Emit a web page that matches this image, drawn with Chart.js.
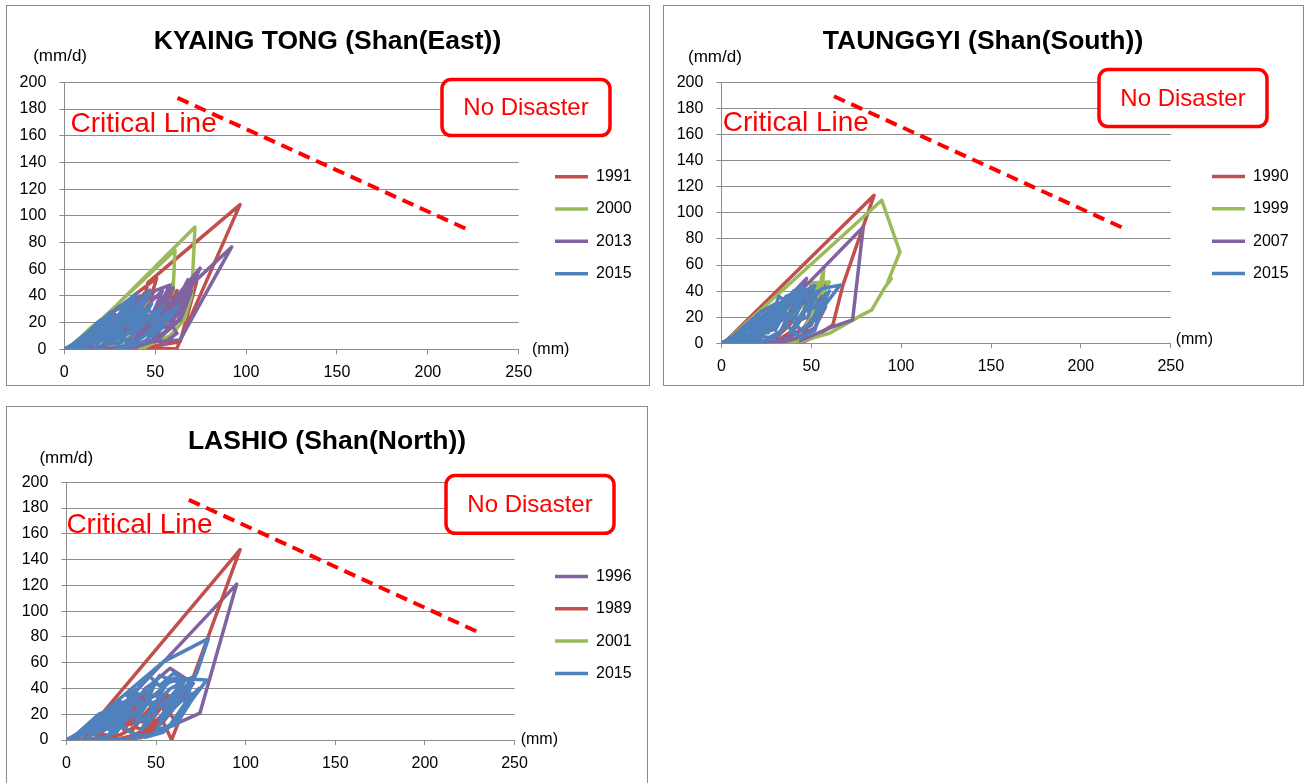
<!DOCTYPE html>
<html>
<head>
<meta charset="utf-8">
<title>Snake lines - Shan State</title>
<script src="https://cdn.jsdelivr.net/npm/chart.js@4.4.1/dist/chart.umd.min.js"></script>
<style>
  html, body { margin: 0; padding: 0; background: #fff; width: 1305px; height: 783px; overflow: hidden; }
  .frame { position: absolute; border: 1px solid #8a8a8a; box-sizing: border-box; }
  canvas { position: absolute; }
</style>
</head>
<body>
<div class="frame" style="left:6px;top:5px;width:644px;height:381px"></div>
<div class="frame" style="left:663px;top:5px;width:641px;height:381px"></div>
<div class="frame" style="left:6px;top:406px;width:642px;height:400px"></div>
<canvas id="c1" width="641" height="377" style="left:7px;top:7px"></canvas>
<canvas id="c2" width="638" height="377" style="left:664px;top:7px"></canvas>
<canvas id="c3" width="640" height="376" style="left:7px;top:407px"></canvas>
<script>
// ---- axis ticks ----
const xTickValues = [0, 50, 100, 150, 200, 250];
const yTickValues = [0, 20, 40, 60, 80, 100, 120, 140, 160, 180, 200];

// ---- KYAING TONG (Shan East): [working rainfall mm, rainfall mm/d] ----
const ktYears = ['1991', '2000', '2013', '2015'];
const kt1991 = [[0,0],[4,3],[9,8],[6,2],[14,12],[10,3],[20,17],[26,20],[18,6],[12,1],[24,18],[32,26],[26,10],[38,40],[50.8,53.3],[44,22],[36,9],[46,30],[40,12],[46,50],[96.7,108.4],[61.8,0.3],[50,1],[38,1],[44,18],[56,36],[62,44],[52,16],[58,30],[72.8,50.5],[63.7,5.7],[52,3],[40,0],[30,4],[36,20],[28,8],[20,2],[12,0],[6,0],[4,0],[18,20],[28,26],[22,12],[34,30],[44,36],[38,20],[48,26],[56,40],[60,50],[54,26],[46,14],[38,6],[30,2],[20,0],[10,0],[0,0]];
const kt2000 = [[0,0],[3,2],[8,7],[5,1],[12,10],[9,3],[16,14],[11,5],[6,4],[60.9,74.2],[59.8,42.8],[52,30],[46,14],[40,6],[34,2],[28,0],[22,4],[30,22],[26,9],[18,3],[14,13],[71.9,91.6],[70.1,40.6],[66,22],[58,10],[48,4],[42,0],[36,8],[44,26],[38,14],[30,5],[22,1],[14,0],[8,0],[2,0],[16,18],[22,16],[18,6],[28,20],[34,24],[28,12],[40,30],[46,36],[40,18],[50,26],[44,10],[36,4],[26,2],[14,0],[0,0]];
const kt2013 = [[0,0],[5,4],[10,8],[7,2],[15,12],[20,16],[14,4],[24,20],[30,26],[22,8],[34,30],[40,38],[32,12],[26,4],[38,28],[44,42],[36,16],[48,36],[54,44],[46,18],[40,6],[52,30],[60,46],[52,20],[62,40],[74.7,60.8],[64,30],[56,14],[48,6],[58,24],[63.7,40.6],[92.1,76.7],[63.7,7],[48.8,5.7],[40,2],[34,0],[42,14],[50,24],[44,10],[36,3],[26,1],[18,0],[10,0],[4,0],[30,32],[42,40],[36,22],[50,44],[58,48],[50,26],[62,36],[68,52],[60,30],[54,16],[64,22],[70,44],[62,20],[52,8],[40,4],[28,0],[14,0],[4,0],[26,28],[36,34],[32,18],[46,40],[54,38],[48,22],[58,34],[66,44],[58,18],[68,40],[72,56],[64,34],[56,26],[62,12],[54,4],[44,16],[38,26],[30,12],[20,2],[0,0]];
const kt2015 = [[0,0],[4,3],[8,6],[5,1],[12,9],[16,13],[10,3],[18,15],[24,20],[16,6],[2,1],[40,42],[32,30],[24,12],[18,4],[30,18],[36,28],[28,10],[40,32],[47.2,44.3],[38,20],[32,8],[42,24],[48,34],[40,14],[50,28],[54,20],[46,10],[56,26],[62.6,31.8],[52,14],[44,6],[36,2],[28,0],[34,12],[26,5],[20,1],[12,0],[6,0],[2,0],[26,28],[20,12],[14,4],[30,26],[38,36],[30,16],[22,6],[34,22],[44,30],[36,12],[46,22],[52,30],[42,18],[34,4],[42,8],[50,18],[44,26],[38,30],[30,22],[22,14],[16,8],[10,2],[4,1],[20,22],[28,20],[22,8],[32,14],[26,16],[18,10],[8,2],[2,0],[14,14],[20,10],[26,24],[34,26],[28,14],[36,20],[42,34],[36,26],[44,40],[40,22],[48,24],[54,32],[48,16],[56,20],[60,28],[52,22],[46,30],[40,18],[32,24],[26,18],[34,34],[30,12],[24,8],[38,14],[44,20],[36,8],[28,4],[22,10],[16,4],[24,26],[18,14],[12,6],[6,2],[0,0]];
const ktCritical = [[62.3,188.3],[221.9,89.7]];

// ---- TAUNGGYI (Shan South) ----
const tgYears = ['1990', '1999', '2007', '2015'];
const tg1990 = [[0,0],[4,3],[8,7],[5,1],[12,10],[8,2],[16,14],[22,18],[15,5],[26,22],[20,8],[30,24],[36,30],[28,10],[40,34],[46,40],[38,14],[30,4],[42,24],[50,44],[58,45],[50,20],[44,8],[36,2],[2,1],[84.9,113.4],[67.6,44.6],[62,14],[52,5],[44,0],[38,6],[46,22],[40,10],[32,3],[22,0],[14,0],[6,0],[2,0],[24,26],[32,30],[26,12],[38,34],[44,42],[38,20],[52,38],[58,44],[52,26],[46,12],[36,4],[24,0],[0,0]];
const tg1999 = [[0,0],[4,3],[2,0],[8,6],[12,10],[7,2],[16,14],[22,20],[14,4],[26,24],[20,8],[30,26],[36,34],[28,12],[40,38],[46,46],[60,47],[52,26],[57,58],[55,22],[48,12],[40,4],[32,0],[24,6],[3,2],[89.2,109.6],[99.3,70],[92.6,47],[94.5,49.5],[91,43],[83.6,25.5],[78,21.6],[60.4,7.9],[43.7,1.2],[34,0],[26,2],[18,0],[10,1],[4,0],[2,0],[20,22],[28,26],[24,12],[34,30],[42,40],[36,18],[48,32],[54,46],[50,20],[44,6],[36,0],[22,0],[0,0]];
const tg2007 = [[0,0],[5,4],[3,1],[10,8],[14,12],[9,3],[18,16],[24,22],[16,6],[28,26],[34,32],[26,10],[38,36],[47.4,49.7],[40,24],[34,10],[42,30],[50,40],[44,18],[38,6],[30,1],[43.6,39.4],[78.9,89.1],[73,18],[62.1,12.7],[51,6.3],[44,2],[50,18],[58,28],[52,12],[42,4],[32,0],[24,2],[16,0],[8,0],[2,0],[22,24],[30,30],[26,14],[36,34],[44,44],[38,22],[48,34],[52,28],[56,36],[50,14],[42,8],[34,2],[20,0],[0,0]];
const tg2015 = [[0,0],[4,3],[7,6],[4,1],[10,8],[14,12],[9,2],[16,14],[20,18],[14,5],[24,22],[28,25],[20,8],[30,28],[34,30],[26,12],[18,3],[28,18],[36,32],[30,14],[40,34],[44,38],[36,16],[46,40],[52,44],[45,22],[38,8],[48,30],[56,42],[66,44.6],[58,30],[50,16],[58,38],[52,10],[44,4],[36,14],[30,5],[22,1],[14,0],[6,0],[2,0],[22,24],[30,30],[24,14],[36,36],[46,42],[40,28],[48,36],[54,40],[46,24],[56,30],[60,40],[52,18],[44,10],[38,22],[30,14],[22,6],[32,20],[40,24],[34,10],[26,4],[16,8],[10,4],[4,1],[18,18],[26,16],[20,6],[12,2],[2,0],[12,12],[18,8],[24,20],[30,18],[26,8],[34,24],[40,40],[34,20],[42,26],[46,36],[40,16],[48,20],[52,36],[56,24],[50,30],[44,44],[38,30],[32,36],[28,20],[36,26],[30,10],[24,14],[20,22],[16,10],[22,4],[14,2],[8,6],[0,0]];
const tgCritical = [[62.6,189.3],[223.4,88.4]];

// ---- LASHIO (Shan North) ----
const lsYears = ['1996', '1989', '2001', '2015'];
const ls1996 = [[0,0],[4,3],[8,6],[5,1],[12,10],[16,13],[10,3],[20,16],[26,20],[18,6],[30,24],[24,10],[34,28],[40,34],[32,12],[26,4],[36,22],[44,38],[38,16],[48,44],[57.8,55.7],[70.8,43.9],[62,28],[54,14],[46,6],[38,1],[30,0],[22,2],[16,4],[95,121],[74.5,20.9],[59.5,11.6],[50,6],[44,10],[56,36],[55,20],[50,14],[42,4],[34,0],[24,1],[14,0],[6,0],[0,0]];
const ls1989 = [[0,0],[3,2],[7,5],[4,1],[10,8],[6,2],[12,10],[18,14],[12,4],[22,16],[28,20],[20,6],[30,24],[26,10],[34,30],[40,26],[32,8],[38,18],[44,28],[36,12],[46,32],[52,36],[58,34],[50,20],[44,8],[54,14],[58.7,0],[62,12],[56,24],[48,10],[40,2],[30,0],[22,4],[10,8],[16.9,15.5],[96.9,147.7],[70.6,48],[62,34],[54,20],[46,10],[38,4],[30,1],[20,0],[10,0],[2,0],[16,16],[24,22],[20,10],[28,28],[34,24],[30,12],[38,32],[42,20],[36,6],[46,24],[50,12],[42,2],[30,0],[16,0],[4,0],[20,18],[26,14],[32,26],[40,30],[34,18],[44,34],[48,28],[42,14],[52,30],[56,22],[48,6],[38,10],[30,4],[22,2],[0,0]];
const ls2001 = [];
const ls2015 = [[0,0],[4,3],[8,7],[5,2],[12,11],[16,14],[10,4],[20,18],[26,22],[18,8],[12,2],[24,16],[30,26],[22,10],[34,30],[40,36],[30,14],[24,5],[36,24],[6,4],[54,60.6],[79.2,78.7],[72.7,51.9],[66,40],[58,30],[64,44],[52,50],[44,34],[50,20],[42,8],[48,26],[58,40],[72,50],[62,30],[56,18],[50,36],[60,48],[78.3,46.5],[61.5,15.5],[54,8],[46,4],[38,2],[30,0],[22,1],[14,0],[6,0],[2,0],[18,20],[26,24],[20,10],[30,28],[38,34],[32,18],[44,40],[50,46],[44,26],[38,12],[46,20],[56,44],[64,48],[58,28],[52,16],[60,36],[70,44],[66,28],[58,12],[68,32],[74,40],[64,18],[54,6],[44,2],[36,6],[28,14],[22,8],[14,4],[30,30],[36,22],[28,6],[20,2],[10,0],[2,0],[16,12],[22,20],[30,22],[26,12],[34,26],[42,30],[36,16],[48,34],[54,40],[48,22],[56,30],[62,40],[56,20],[64,30],[70,36],[62,12],[50,8],[58,24],[66,46],[60,52],[52,42],[46,50],[40,40],[34,34],[42,26],[50,30],[44,14],[38,20],[30,16],[24,8],[32,10],[26,20],[20,14],[12,6],[6,2],[0,0]];
const lsCritical = [[68.3,186.4],[228.7,84.4]];

// ---- colours ----
const RED = '#C0504D', GREEN = '#9BBB59', PURPLE = '#8064A2', BLUE = '#4F81BD';
const GRID = '#8c8c8c';
const FONT = "'Liberation Sans', Arial, sans-serif";
Chart.defaults.font.family = FONT;

// yW: left axis box, xH: bottom axis box, innerW/outerW: spacers either side of the legend
const panels = [
  { id: 'c1', title: 'KYAING TONG (Shan(East))', years: ktYears,
    series: [kt1991, kt2000, kt2013, kt2015], colors: [RED, GREEN, PURPLE, BLUE], critical: ktCritical,
    yW: 57.3, xH: 34.7, innerW: 20, outerW: 6.4, legendTitlePad: 8.8,
    unitY: { dx: -31.1, dy: -26.2 }, unitX: { dx: 13.3, dy: 0 },
    critText: { x: 3.4, y: 162.6 }, box: { dx: 377.7, dy: -2.7, w: 168, h: 56 } },
  { id: 'c2', title: 'TAUNGGYI (Shan(South))', years: tgYears,
    series: [tg1990, tg1999, tg2007, tg2015], colors: [RED, GREEN, PURPLE, BLUE], critical: tgCritical,
    yW: 57.4, xH: 40.7, innerW: 24.9, outerW: 3.4, legendTitlePad: 11.6,
    unitY: { dx: -33.4, dy: -24.7 }, unitX: { dx: 4.9, dy: -3.3 },
    critText: { x: 0.7, y: 162.5 }, box: { dx: 377.6, dy: -12.7, w: 168, h: 57 } },
  { id: 'c3', title: 'LASHIO (Shan(North))', years: lsYears,
    series: [ls1996, ls1989, ls2001, ls2015], colors: [PURPLE, RED, GREEN, BLUE], critical: lsCritical,
    yW: 59.4, xH: 43, innerW: 24.2, outerW: 5.4, legendTitlePad: 13.2,
    unitY: { dx: -27, dy: -24.2 }, unitX: { dx: 6.2, dy: 0 },
    critText: { x: 0, y: 160.5 }, box: { dx: 379.6, dy: -6.7, w: 168, h: 57.7 } }
];

const toXY = pts => pts.map(([x, y]) => ({ x, y }));

// Axis unit captions, the "Critical Line" caption and the "No Disaster" box
const annotations = {
  id: 'annotations',
  afterDraw(chart, args, o) {
    const { ctx, chartArea: a, scales: { x, y } } = chart;
    ctx.save();
    ctx.fillStyle = '#000';
    ctx.font = '17px ' + FONT;
    ctx.textAlign = 'left';
    ctx.textBaseline = 'middle';
    ctx.fillText('(mm/d)', a.left + o.unitY.dx, a.top + o.unitY.dy);
    ctx.font = '16px ' + FONT;
    ctx.fillText('(mm)', a.right + o.unitX.dx, a.bottom + o.unitX.dy);

    ctx.fillStyle = '#FF0000';
    ctx.font = '28px ' + FONT;
    ctx.textBaseline = 'alphabetic';
    ctx.fillText('Critical Line', x.getPixelForValue(o.critText.x), y.getPixelForValue(o.critText.y));

    const bx = a.left + o.box.dx, by = a.top + o.box.dy;
    ctx.beginPath();
    ctx.roundRect(bx, by, o.box.w, o.box.h, 9);
    ctx.fillStyle = '#fff';
    ctx.fill();
    ctx.lineWidth = 3.5;
    ctx.strokeStyle = '#FF0000';
    ctx.stroke();
    ctx.fillStyle = '#FF0000';
    ctx.font = '24px ' + FONT;
    ctx.textAlign = 'center';
    ctx.textBaseline = 'middle';
    ctx.fillText('No Disaster', bx + o.box.w / 2, by + o.box.h / 2 + 1);
    ctx.restore();
  }
};

const spacer = (width, weight) => ({
  type: 'linear', position: 'right', min: 0, max: 1, display: true, weight,
  ticks: { display: false },
  grid: { display: false, drawTicks: false },
  border: { display: false },
  afterFit: s => { s.width = width; }
});

panels.forEach(p => {
  const n = p.series.length;
  const datasets = p.series.map((pts, i) => ({
    label: p.years[i],
    data: toXY(pts),
    borderColor: p.colors[i],
    backgroundColor: p.colors[i],
    borderWidth: 3.5,
    borderJoinStyle: 'round',
    borderCapStyle: 'round',
    pointRadius: 0,
    pointHoverRadius: 0,
    showLine: true,
    tension: 0,
    order: n - i + 1
  }));
  datasets.push({
    label: 'critical',
    isCritical: true,
    data: toXY(p.critical),
    borderColor: '#FF0000',
    backgroundColor: '#FF0000',
    borderWidth: 4,
    borderDash: [12, 7],
    pointRadius: 0,
    pointHoverRadius: 0,
    showLine: true,
    order: 0
  });

  new Chart(document.getElementById(p.id), {
    type: 'scatter',
    data: { datasets },
    plugins: [annotations],
    options: {
      responsive: false,
      animation: false,
      devicePixelRatio: 1,
      events: [],
      layout: { padding: 0 },
      plugins: {
        annotations: p,
        tooltip: { enabled: false },
        title: {
          display: true,
          text: p.title,
          color: '#000',
          font: { size: 26.5, weight: 'bold', family: FONT },
          padding: { top: 18.9, bottom: 24.6 }
        },
        legend: {
          position: 'right',
          align: 'center',
          fullSize: false,
          maxWidth: 200,
          title: { display: true, text: ' ', font: { size: 1 }, padding: p.legendTitlePad },
          labels: {
            usePointStyle: true,
            pointStyle: 'line',
            pointStyleWidth: 33,
            color: '#000',
            font: { size: 16, family: FONT },
            padding: 16.3,
            sort: (a, b) => a.datasetIndex - b.datasetIndex,
            filter: (item, data) => !data.datasets[item.datasetIndex].isCritical
          }
        }
      },
      scales: {
        x: {
          type: 'linear', position: 'bottom', min: 0, max: 250,
          afterBuildTicks: s => { s.ticks = xTickValues.map(v => ({ value: v })); },
          ticks: { color: '#000', font: { size: 16 }, padding: 9, maxRotation: 0, autoSkip: false },
          grid: { drawOnChartArea: false, color: GRID, tickLength: 5, lineWidth: 1 },
          border: { display: true, color: GRID, width: 1 },
          afterFit: s => { s.height = p.xH; }
        },
        y: {
          type: 'linear', position: 'left', min: 0, max: 200,
          afterBuildTicks: s => { s.ticks = yTickValues.map(v => ({ value: v })); },
          ticks: { color: '#000', font: { size: 16 }, padding: 13, autoSkip: false },
          grid: { color: GRID, tickLength: 5, lineWidth: 1 },
          border: { display: true, color: GRID, width: 1 },
          afterFit: s => { s.width = p.yW; }
        },
        gapInner: spacer(p.innerW, 0),
        gapOuter: spacer(p.outerW, 2000)
      }
    }
  });
});
</script>
</body>
</html>
